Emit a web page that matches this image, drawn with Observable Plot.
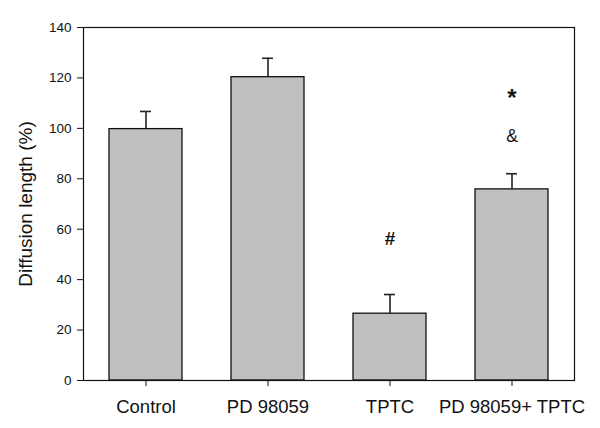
<!DOCTYPE html>
<html><head><meta charset="utf-8">
<script src="https://cdn.jsdelivr.net/npm/d3@7"></script>
<script src="https://cdn.jsdelivr.net/npm/@observablehq/plot@0.6"></script>
<style>body{margin:0;background:#fff;font-family:"Liberation Sans",Arial,sans-serif}</style>
</head><body><div id="chart"></div>
<script>
const categories = ["Control", "PD 98059", "TPTC", "PD 98059+ TPTC"];
const means = [99.7, 120.3, 26.5, 75.8];
const errors = [7.0, 7.5, 7.6, 6.2];
const annoLabels = ["#", "&", "*"];
const annoCats = ["TPTC", "PD 98059+ TPTC", "PD 98059+ TPTC"];
const annoY = [56, 97, 112];
const yTicks = [0, 20, 40, 60, 80, 100, 120, 140];

const data = categories.map((c, i) => ({cat: c, v: means[i], e: errors[i]}));
const anno = annoLabels.map((l, i) => ({label: l, cat: annoCats[i], y: annoY[i]}));

const chart = Plot.plot({
  width: 600, height: 428,
  marginLeft: 83, marginRight: 26, marginTop: 27, marginBottom: 48,
  style: {fontFamily: '"Liberation Sans", Arial, sans-serif', color: "#111", background: "#fff"},
  x: {domain: categories, paddingInner: 0.4, paddingOuter: 0.2, label: null},
  y: {domain: [0, 140]},
  marks: [
    Plot.axisY({ticks: yTicks, tickSize: 6, tickPadding: 6, label: "Diffusion length (%)",
      labelAnchor: "center", labelArrow: "none", labelOffset: 65}),
    Plot.axisX({tickSize: 6, tickPadding: 13, label: null}),
    Plot.barY(data, {x: "cat", y: "v", fill: "#c0c0c0", stroke: "#111", strokeWidth: 1.3}),
    Plot.ruleX(data, {x: "cat", y1: "v", y2: d => d.v + d.e, stroke: "#222", strokeWidth: 1.6}),
    Plot.tickY(data, {x: "cat", y: d => d.v + d.e, stroke: "#222", strokeWidth: 1.6, insetLeft: 31, insetRight: 31}),
    Plot.text(anno, {x: "cat", y: "y", text: "label", fontSize: 18, fontWeight: "bold", fill: "#111"}),
    Plot.frame({stroke: "#111", strokeWidth: 1.2})
  ]
});
document.getElementById("chart").appendChild(chart);
function setSize(sel, size) {
  chart.querySelectorAll(sel).forEach(g => {
    g.setAttribute("font-size", size);
    g.querySelectorAll("text").forEach(t => t.setAttribute("font-size", size));
  });
}
setSize("g[aria-label='y-axis tick label']", "13.5");
setSize("g[aria-label='y-axis label']", "19");
setSize("g[aria-label='x-axis tick label']", "18.5");
chart.querySelectorAll("g[aria-label='text'] text").forEach(t => {
  if (t.textContent === "*") t.setAttribute("font-size", "24");
  if (t.textContent === "#") t.setAttribute("font-size", "19");
  if (t.textContent === "&") { t.setAttribute("font-weight", "normal"); t.setAttribute("font-size", "17.5"); }
});
</script></body></html>
